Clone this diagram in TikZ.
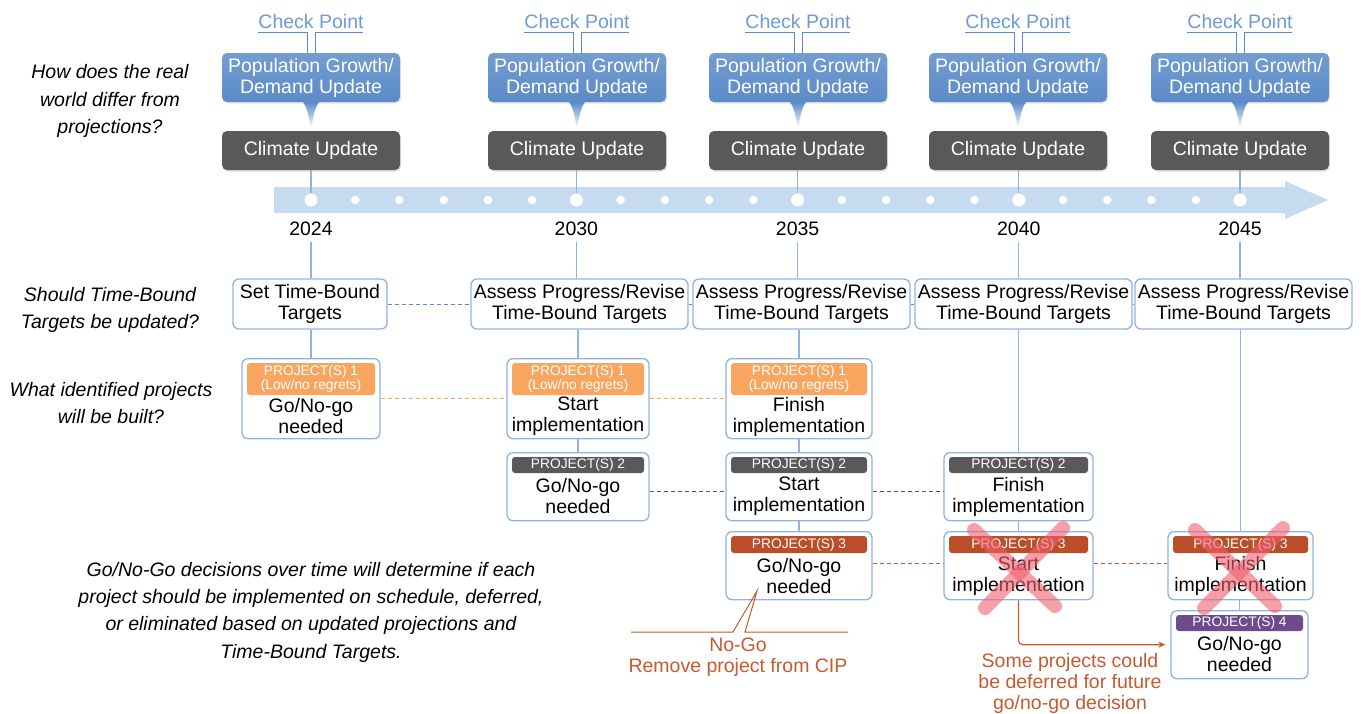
\documentclass[tikz,border=0pt]{standalone}
\usepackage{fontspec}
\setmainfont{Liberation Sans}
\usetikzlibrary{arrows.meta,shadows,calc}
\definecolor{cpblue}{HTML}{5B8BC8}
\definecolor{cptext}{HTML}{6C9BD6}
\definecolor{lineblue}{HTML}{8DB4E2}
\definecolor{bandblue}{HTML}{C6DBF0}
\definecolor{dkgray}{HTML}{595959}
\definecolor{porange}{HTML}{F8A65F}
\definecolor{pred}{HTML}{BA4E28}
\definecolor{ppurple}{HTML}{6F4A8E}
\definecolor{callred}{HTML}{C55A30}
\definecolor{xpink}{HTML}{F0606E}
\newcommand\pbx[9]{%
  \pgfmathsetmacro\hw{#4-10}%
  \pgfmathsetmacro\hy{#3+5+#7/2}%
  \pgfmathsetmacro\by{#3+5+#7+(#5-5-#7)/2}%
  \node[pbox, minimum width=#4pt, minimum height=#5pt, anchor=north] (#1) at (#2,#3) {};
  \node[phead, fill=#6, minimum width=\hw pt, minimum height=#7pt] (#1h) at (#2,\hy) {#8};
  \node[ptext] (#1b) at (#2,\by) {#9};
}
\begin{document}
\begin{tikzpicture}[x=1pt,y=-1pt,
  big/.style={font=\fontsize{19.5}{21}\selectfont},
  popbox/.style={top color=cpblue!85!white, bottom color=cpblue, rounded corners=5pt, text=white, minimum width=178pt, minimum height=49pt, align=center, inner sep=0pt, big, drop shadow={opacity=0.2,shadow xshift=1pt,shadow yshift=-1.5pt}},
  climbox/.style={fill=dkgray, rounded corners=5pt, text=white, minimum width=178pt, minimum height=39pt, inner sep=0pt, big, drop shadow={opacity=0.25,shadow xshift=1pt,shadow yshift=-1.5pt}},
  tbox/.style={draw=lineblue, line width=1.3pt, rounded corners=6pt, fill=white, inner sep=0pt, align=center, minimum height=50pt, big},
  pbox/.style={draw=lineblue, line width=1.3pt, rounded corners=6pt, fill=white, inner sep=0pt},
  phead/.style={rounded corners=3pt, text=white, inner sep=0pt, align=center, font=\fontsize{13.8}{14}\selectfont},
  ptext/.style={align=center, inner sep=0pt, big},
  qtext/.style={align=center, inner sep=0pt, font=\fontsize{19.5}{27.3}\selectfont\itshape},
  cpline/.style={draw=cpblue, line width=1pt},
  vline/.style={draw=lineblue, line width=1.2pt},
  bigdot/.style={circle, fill=white, minimum size=13pt, inner sep=0pt},
  smalldot/.style={circle, fill=white, minimum size=8.5pt, inner sep=0pt},
  dashln/.style={line width=1pt, dash pattern=on 4pt off 3pt},
  xstroke/.style={draw=xpink, opacity=0.6, line width=14pt, line cap=round},
]
\useasboundingbox (0,0) rectangle (1363,713);

% left questions
\node[qtext] (q1) at (110,101) {How does the real\\world differ from\\projections?};
\node[qtext] (q2) at (110,310) {Should Time-Bound\\Targets be updated?};
\node[qtext] (q3) at (111,403) {What identified projects\\will be built?};
\node[qtext] (q4) at (311,612) {Go/No-Go decisions over time will determine if each\\project should be implemented on schedule, deferred,\\or eliminated based on updated projections and\\Time-Bound Targets.};

% timeline band
\fill[bandblue] (274,187) -- (1285,187) -- (1285,181) -- (1328,200) -- (1285,219) -- (1285,213) -- (274,213) -- cycle;
\foreach \k in {1,2,3,4,5,7,8,9,10,12,13,14,15,17,18,19,20}{
  \node[smalldot] at ({311+44.238*\k},200) {};
}
\node[bigdot] (d1) at (311,200) {};
\node[bigdot] (d2) at (576.4,200) {};
\node[bigdot] (d3) at (797.6,200) {};
\node[bigdot] (d4) at (1018.8,200) {};
\node[bigdot] (d5) at (1240,200) {};

% top blocks per column
\foreach \i/\x in {1/311,2/577,3/798,4/1018,5/1240}{
  \node[text=cptext, big, inner sep=0pt] (cp\i) at (\x,21.5) {Check Point};
  \node[popbox] (pop\i) at (\x,77.5) {Population Growth/\\Demand Update};
  \node[climbox] (cl\i) at (\x,150.5) {\raisebox{-1.5pt}{Climate Update}};
  \draw[cpline] ([xshift=-4pt]pop\i.north) -- ++(0,-20) -- ++(-49,0);
  \draw[cpline] ([xshift=4pt]pop\i.north) -- ++(0,-20) -- ++(48,0);
  \shade[top color=cpblue, bottom color=white]
    ($(pop\i.south)+(-8,0)$) .. controls ($(pop\i.south)+(-3,6)$) and ($(pop\i.south)+(-2,18)$) .. ($(pop\i.south)+(0,26)$)
    .. controls ($(pop\i.south)+(2,18)$) and ($(pop\i.south)+(3,6)$) .. ($(pop\i.south)+(8,0)$) -- cycle;
  \draw[vline] (cl\i.south -| d\i) -- (d\i.north);
}

% years
\node[big, inner sep=0pt] (y1) at (311,228.5) {2024};
\node[big, inner sep=0pt] (y2) at (576.4,228.5) {2030};
\node[big, inner sep=0pt] (y3) at (797.6,228.5) {2035};
\node[big, inner sep=0pt] (y4) at (1018.8,228.5) {2040};
\node[big, inner sep=0pt] (y5) at (1240,228.5) {2045};

% target boxes
\node[tbox, minimum width=154pt] (t1) at (310,304) {Set Time-Bound\\Targets};
\node[tbox, minimum width=217pt] (t2) at (579.5,304) {Assess Progress/Revise\\Time-Bound Targets};
\node[tbox, minimum width=217pt] (t3) at (801.5,304) {Assess Progress/Revise\\Time-Bound Targets};
\node[tbox, minimum width=217pt] (t4) at (1023.5,304) {Assess Progress/Revise\\Time-Bound Targets};
\node[tbox, minimum width=217pt] (t5) at (1243.5,304) {Assess Progress/Revise\\Time-Bound Targets};

% project boxes
\pbx{p1a}{311}{358}{138}{80}{porange}{32}{PROJECT(S) 1\\(Low/no regrets)}{Go/No-go\\needed}
\pbx{p1b}{578}{358}{142}{80}{porange}{32}{PROJECT(S) 1\\(Low/no regrets)}{Start\\implementation}
\pbx{p1c}{799}{358}{146}{80}{porange}{32}{PROJECT(S) 1\\(Low/no regrets)}{Finish\\implementation}
\pbx{p2a}{578}{452}{142}{68}{dkgray}{16}{PROJECT(S) 2}{Go/No-go\\needed}
\pbx{p2b}{799}{452}{146}{68}{dkgray}{16}{PROJECT(S) 2}{Start\\implementation}
\pbx{p2c}{1018.5}{452}{149}{68}{dkgray}{16}{PROJECT(S) 2}{Finish\\implementation}
\pbx{p3a}{799}{531}{146}{68}{pred}{17}{PROJECT(S) 3}{Go/No-go\\needed}
\pbx{p3b}{1018.5}{531}{149}{68}{pred}{17}{PROJECT(S) 3}{Start\\implementation}
\pbx{p3c}{1240.5}{531}{145}{68}{pred}{17}{PROJECT(S) 3}{Finish\\implementation}
\pbx{p4}{1239.5}{610}{137}{68}{ppurple}{16}{PROJECT(S) 4}{Go/No-go\\needed}

% vertical column connectors
\draw[vline] ([yshift=-6pt]y1.south) -- (t1.north -| d1);
\draw[vline] ([yshift=-6pt]y2.south) -- (t2.north -| d2);
\draw[vline] ([yshift=-6pt]y3.south) -- (t3.north -| d3);
\draw[vline] ([yshift=-6pt]y4.south) -- (t4.north -| d4);
\draw[vline] ([yshift=-6pt]y5.south) -- (t5.north -| d5);
\draw[vline] (t1.south -| d1) -- (p1a.north -| d1);
\draw[vline] (t2.south -| p1b) -- (p1b.north);
\draw[vline] (p1b.south) -- (p2a.north);
\draw[vline] (t3.south -| p1c) -- (p1c.north);
\draw[vline] (p1c.south) -- (p2b.north);
\draw[vline] (p2b.south) -- (p3a.north);
\draw[vline] (t4.south -| p2c) -- (p2c.north);
\draw[vline] (p2c.south) -- (p3b.north);
\draw[vline] (t5.south -| p3c) -- (p3c.north);
\draw[vline] (p3c.south -| p4) -- (p4.north);

% dashed row connectors
\draw[dashln, draw=cpblue] (t1.east) -- (t2.west);
\draw[dashln, draw=cpblue] (t2.east) -- (t3.west);
\draw[dashln, draw=cpblue] (t3.east) -- (t4.west);
\draw[dashln, draw=cpblue] (t4.east) -- (t5.west);
\draw[dashln, draw=porange] (p1a.east) -- (p1b.west);
\draw[dashln, draw=porange] (p1b.east) -- (p1c.west);
\draw[dashln, draw=dkgray] ([yshift=-5pt]p2a.east) -- ([yshift=-5pt]p2b.west);
\draw[dashln, draw=dkgray] ([yshift=-5pt]p2b.east) -- ([yshift=-5pt]p2c.west);
\draw[dashln, draw=callred] ([yshift=2pt]p3a.east) -- ([yshift=2pt]p3b.west);
\draw[dashln, draw=callred] ([yshift=2pt]p3b.east) -- ([yshift=2pt]p3c.west);

% deferral arrow
\draw[callred, line width=1.2pt, rounded corners=4pt, -{Stealth[length=7pt,width=6pt]}] (p3b.south) |- ([xshift=-5pt]p4.west);
\node[big, text=callred, align=center, inner sep=0pt] (deftxt) at (1070,683.5) {Some projects could\\be deferred for future\\go/no-go decision};

% no-go callout
\coordinate (ctip) at (757,591);
\draw[callred, line width=1pt] (631,632) -- (733,632) -- (ctip) -- (745,632) -- (848,632);
\node[big, text=callred, align=center, inner sep=0pt] (nogo) at (738,657) {No-Go\\Remove project from CIP};

% red crosses
\draw[xstroke] (974,530) -- (1055,606);
\draw[xstroke] (1063,528) -- (985,608);
\draw[xstroke] (1195,530) -- (1275,606);
\draw[xstroke] (1283,528) -- (1204,608);
\end{tikzpicture}
\end{document}
